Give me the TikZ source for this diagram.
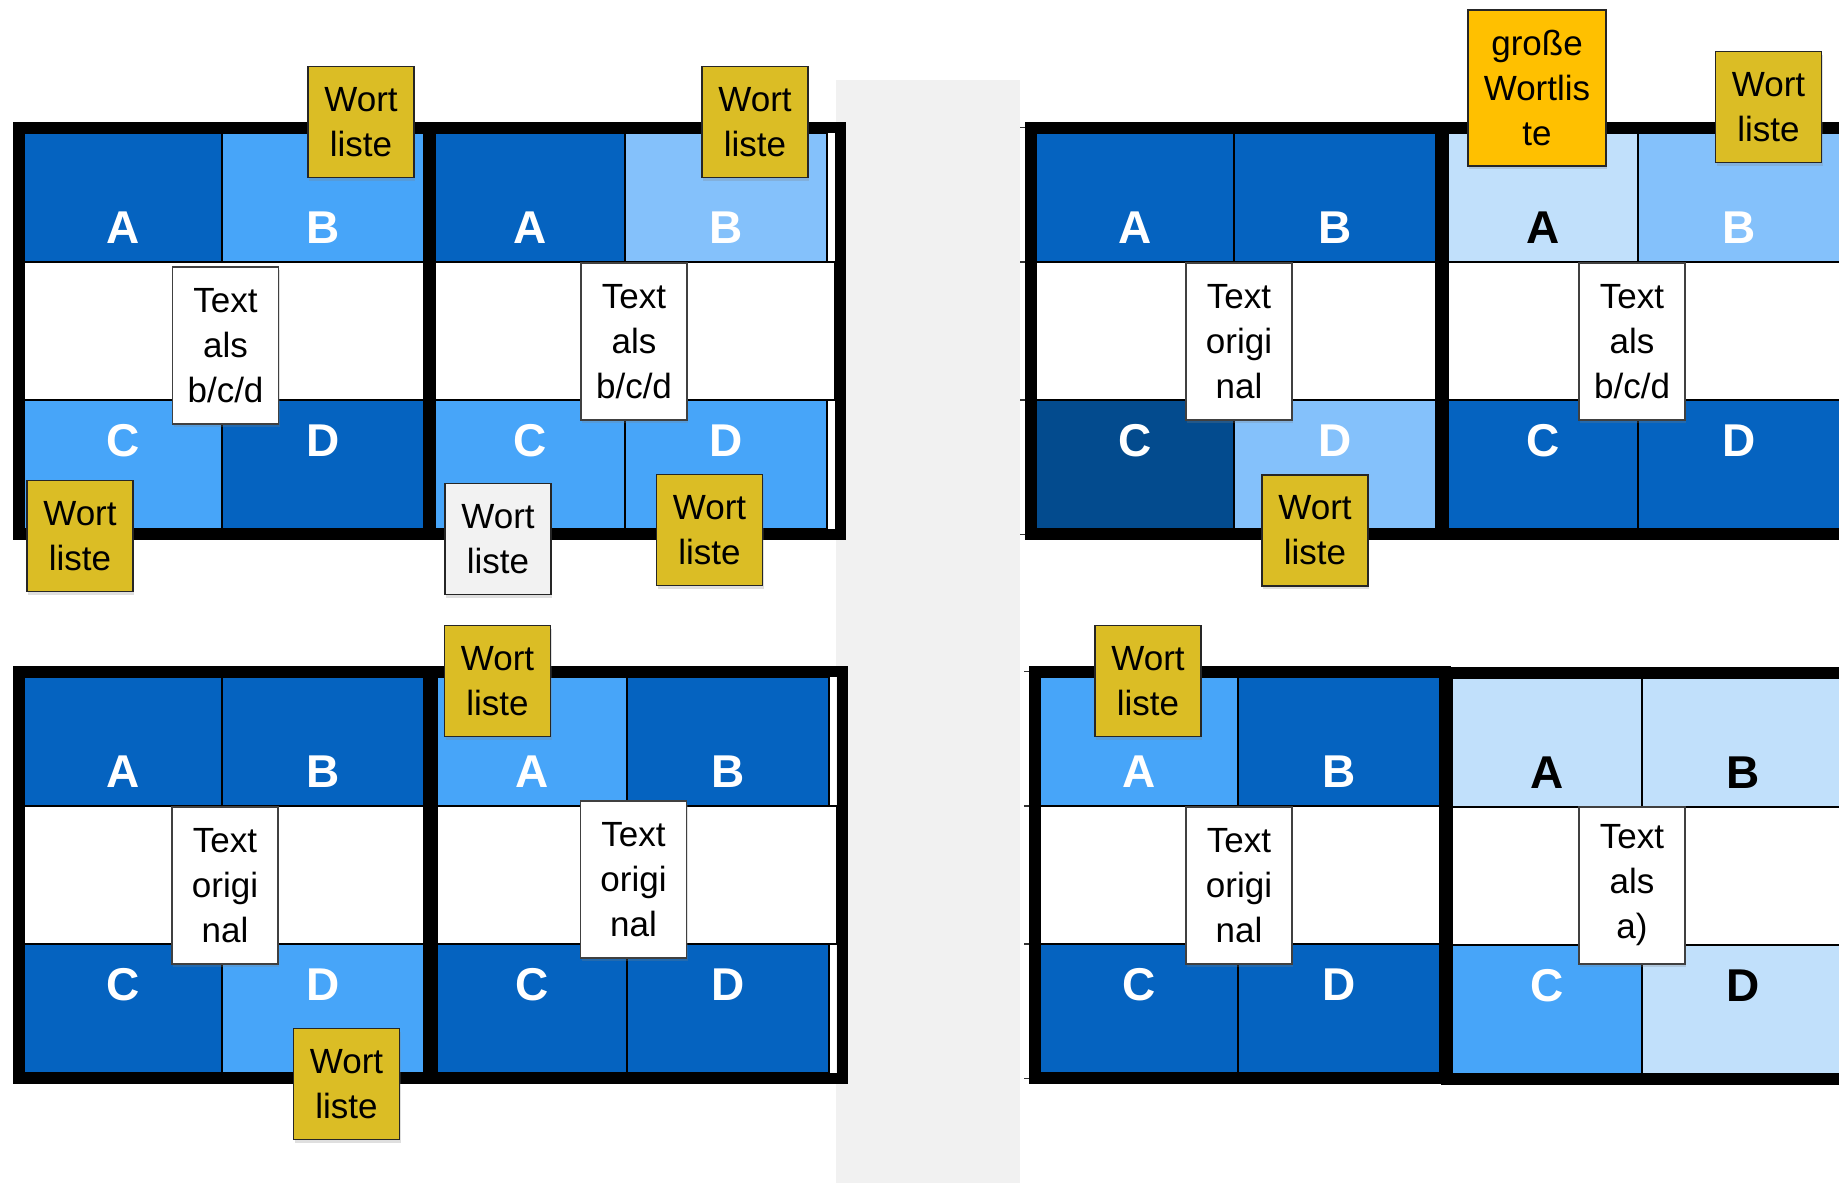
\documentclass[tikz,border=0pt]{standalone}
\usepackage{fontspec}
\setmainfont{Liberation Sans}
\usetikzlibrary{positioning, fit, shadows}

\definecolor{darkblue}{RGB}{5,99,192}
\definecolor{midblue}{RGB}{71,165,249}
\definecolor{lightblue}{RGB}{132,193,251}
\definecolor{paleblue}{RGB}{193,224,251}
\definecolor{deepblue}{RGB}{3,75,142}
\definecolor{notegold}{RGB}{219,189,37}
\definecolor{noteorange}{RGB}{255,192,0}
\definecolor{notegrey}{RGB}{242,242,242}
\definecolor{stripgrey}{RGB}{241,241,241}

\begin{document}
\begin{tikzpicture}[
    x=0.5pt, y=-0.5pt,
    cell/.style={rectangle, draw=black, line width=1pt, inner sep=0pt, outer sep=0pt, anchor=north west, minimum width=99pt, minimum height=64.5pt},
    narrow/.style={minimum width=95pt},
    wide/.style={minimum width=101pt},
    band/.style={cell, fill=white, minimum width=200pt, minimum height=69pt},
    dark/.style={fill=darkblue},
    mid/.style={fill=midblue},
    light/.style={fill=lightblue},
    pale/.style={fill=paleblue},
    deep/.style={fill=deepblue},
    letter/.style={font=\bfseries\fontsize{23}{27}\selectfont, text=white, inner sep=0pt},
    topletter/.style={label={[letter, anchor=base, yshift=9.5pt]south:#1}},
    botletter/.style={label={[letter, anchor=north, yshift=-12pt]north:#1}},
    panel/.style={draw=black, line width=5.5pt, inner sep=2.75pt},
    rowtick/.style={draw=black!80, line width=0.8pt},
    textbox/.style={rectangle, draw=black!75, fill=white, line width=0.6pt, minimum width=53pt, minimum height=78.5pt, inner sep=0pt, align=center, font=\fontsize{17.5}{22.5}\selectfont, drop shadow={shadow xshift=0.5pt, shadow yshift=-1.5pt, opacity=0.25}},
    note/.style={textbox, draw=black!85, fill=notegold, minimum height=55.5pt},
]

    \clip (0,0) rectangle (1839,1183);
    \fill[white] (0,0) rectangle (1839,1183);

    % grey strip between the halves
    \fill[stripgrey] (836,80) rectangle (1020,1183);

    % top left pair
    \node (p1a) [cell, dark, topletter=A] at (24,133) {};
    \node (p1b) [cell, wide, mid, topletter=B, right=0pt of p1a] {};
    \node (p1w) [band] at (p1a.south west) {};
    \node (p1c) [cell, mid, botletter=C] at (p1w.south west) {};
    \node (p1d) [cell, wide, dark, botletter=D, right=0pt of p1c] {};

    \node (p2a) [cell, narrow, dark, topletter=A] at (435,133) {};
    \node (p2b) [cell, wide, light, topletter=B, right=0pt of p2a] {};
    \node (p2w) [band] at (p2a.south west) {};
    \node (p2c) [cell, narrow, mid, botletter=C] at (p2w.south west) {};
    \node (p2d) [cell, wide, mid, botletter=D, right=0pt of p2c] {};

    % top right pair
    \node (p3a) [cell, dark, topletter=A] at (1036,133) {};
    \node (p3b) [cell, wide, dark, topletter=B, right=0pt of p3a] {};
    \node (p3w) [band] at (p3a.south west) {};
    \node (p3c) [cell, deep, botletter=C] at (p3w.south west) {};
    \node (p3d) [cell, wide, light, botletter=D, right=0pt of p3c] {};

    \node (p4a) [cell, narrow, pale, topletter={\color{black}A}] at (1448,133) {};
    \node (p4b) [cell, wide, light, topletter=B, right=0pt of p4a] {};
    \node (p4w) [band] at (p4a.south west) {};
    \node (p4c) [cell, narrow, dark, botletter=C] at (p4w.south west) {};
    \node (p4d) [cell, wide, dark, botletter=D, right=0pt of p4c] {};

    % bottom left pair
    \node (p5a) [cell, dark, topletter=A] at (24,677) {};
    \node (p5b) [cell, wide, dark, topletter=B, right=0pt of p5a] {};
    \node (p5w) [band] at (p5a.south west) {};
    \node (p5c) [cell, dark, botletter=C] at (p5w.south west) {};
    \node (p5d) [cell, wide, mid, botletter=D, right=0pt of p5c] {};

    \node (p6a) [cell, narrow, mid, topletter=A] at (437,677) {};
    \node (p6b) [cell, wide, dark, topletter=B, right=0pt of p6a] {};
    \node (p6w) [band] at (p6a.south west) {};
    \node (p6c) [cell, narrow, dark, botletter=C] at (p6w.south west) {};
    \node (p6d) [cell, wide, dark, botletter=D, right=0pt of p6c] {};

    % bottom right pair
    \node (p7a) [cell, mid, topletter=A] at (1040,677) {};
    \node (p7b) [cell, wide, dark, topletter=B, right=0pt of p7a] {};
    \node (p7w) [band] at (p7a.south west) {};
    \node (p7c) [cell, dark, botletter=C] at (p7w.south west) {};
    \node (p7d) [cell, wide, dark, botletter=D, right=0pt of p7c] {};

    \node (p8a) [cell, narrow, pale, topletter={\color{black}A}] at (1452,678) {};
    \node (p8b) [cell, wide, pale, topletter={\color{black}B}, right=0pt of p8a] {};
    \node (p8w) [band] at (p8a.south west) {};
    \node (p8c) [cell, narrow, mid, botletter=C] at (p8w.south west) {};
    \node (p8d) [cell, wide, pale, botletter={\color{black}D}, right=0pt of p8c] {};

    % row lines sticking out on the left of the right half
    \draw [rowtick] ([yshift=2.75pt]p3a.north west) -- ++(-16,0);
    \draw [rowtick] (p3w.north west) -- ++(-16,0);
    \draw [rowtick] (p3c.north west) -- ++(-16,0);
    \draw [rowtick] ([yshift=-2.75pt]p3c.south west) -- ++(-16,0);
    \draw [rowtick] ([yshift=2.75pt]p7a.north west) -- ++(-16,0);
    \draw [rowtick] (p7w.north west) -- ++(-16,0);
    \draw [rowtick] (p7c.north west) -- ++(-16,0);
    \draw [rowtick] ([yshift=-2.75pt]p7c.south west) -- ++(-16,0);

    % thick frames
    \node (f1) [panel, fit=(p1a)(p1w)(p1d)] {};
    \node (f2) [panel, fit=(p2a)(p2w)(p2d)] {};
    \node (f3) [panel, fit=(p3a)(p3w)(p3d)] {};
    \node (f4) [panel, fit=(p4a)(p4w)(p4d)] {};
    \node (f5) [panel, fit=(p5a)(p5w)(p5d)] {};
    \node (f6) [panel, fit=(p6a)(p6w)(p6d)] {};
    \node (f7) [panel, fit=(p7a)(p7w)(p7d)] {};
    \node (f8) [panel, fit=(p8a)(p8w)(p8d)] {};

    % text boxes
    \node (t1) [textbox] at (225.5,345.5) {Text\\als\\b/c/d};
    \node (t2) [textbox] at (634,341.5) {Text\\als\\b/c/d};
    \node (t3) [textbox] at (1239,341.5) {Text\\origi\\nal};
    \node (t4) [textbox] at (1632,341.5) {Text\\als\\b/c/d};
    \node (t5) [textbox] at (225,885.5) {Text\\origi\\nal};
    \node (t6) [textbox] at (633.5,879.5) {Text\\origi\\nal};
    \node (t7) [textbox] at (1239,885.5) {Text\\origi\\nal};
    \node (t8) [textbox] at (1632,885.5) {Text\\als\\a)};

    % word lists
    \node (w1) [note] at (361,122) {Wort\\liste};
    \node (w2) [note] at (80,536) {Wort\\liste};
    \node (w3) [note] at (755,122) {Wort\\liste};
    \node (w4) [note, fill=notegrey] at (498,539) {Wort\\liste};
    \node (w5) [note] at (709.5,530) {Wort\\liste};
    \node (w6) [note] at (1315,530.5) {Wort\\liste};
    \node (w7) [note, fill=noteorange, minimum width=69pt, minimum height=78pt] at (1537,88) {große\\Wortlis\\te};
    \node (w8) [note] at (1768.5,107) {Wort\\liste};
    \node (w9) [note] at (346.5,1084) {Wort\\liste};
    \node (w10) [note] at (497.5,681) {Wort\\liste};
    \node (w11) [note] at (1148,681) {Wort\\liste};

\end{tikzpicture}
\end{document}
